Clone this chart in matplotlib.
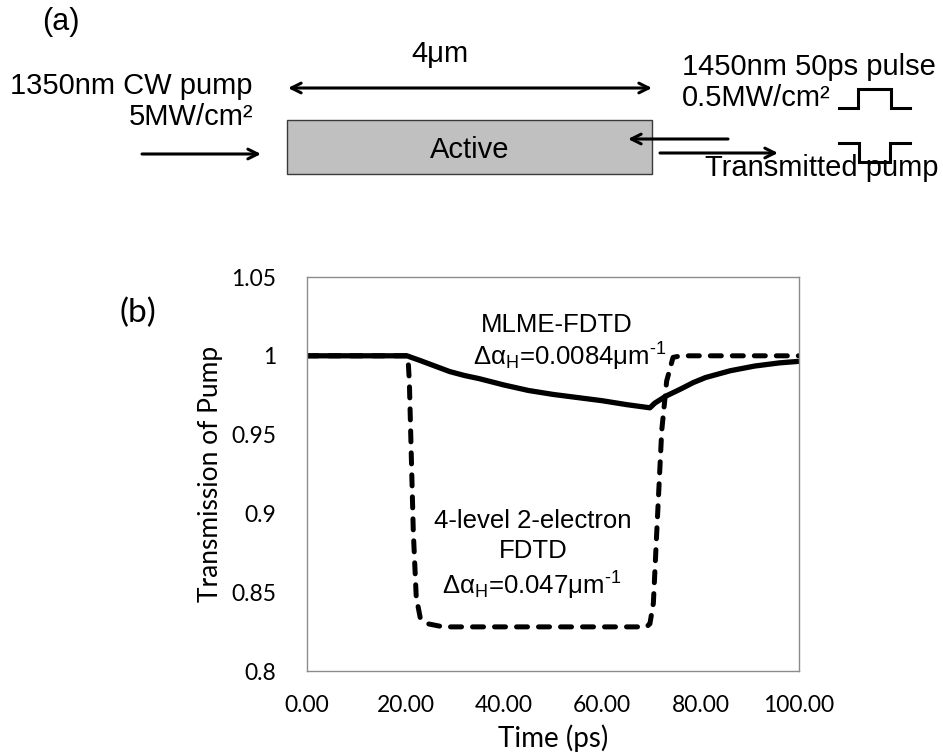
"""Pump transmission through a 4 um active region: MLME-FDTD vs 4-level 2-electron FDTD.

Panel (a) sketches the pump/probe geometry, panel (b) plots the transmitted
CW pump while the 50 ps pulse passes through.
"""

import matplotlib
matplotlib.use("Agg")
import matplotlib.pyplot as plt
from matplotlib.patches import Rectangle

plt.rcParams["mathtext.fontset"] = "custom"
plt.rcParams["mathtext.rm"] = "Liberation Sans"
plt.rcParams["mathtext.it"] = "Liberation Sans:italic"

ARIAL = "Liberation Sans"
CALIBRI = "Lato"

# MLME-FDTD (solid)
mlme_t = [0, 20.3, 23, 26, 29, 32, 35, 40, 45, 50, 55, 60, 65, 69.7,
          70.7, 73, 76, 78.5, 81, 86, 91, 96, 100]
mlme_T = [1.0, 1.0, 0.997, 0.9935, 0.990, 0.9875, 0.9855, 0.9815, 0.978,
          0.9755, 0.9735, 0.9715, 0.969, 0.967, 0.970, 0.9745, 0.979,
          0.983, 0.9862, 0.9905, 0.9935, 0.9955, 0.9965]

# 4-level 2-electron FDTD (dashed)
fourlvl_t = [0, 20.5, 20.8, 21.6, 22.2, 23.0, 24.5, 27.7, 40, 60, 69.0,
             69.7, 70.4, 71.1, 72.1, 73.1, 74.4, 76, 100]
fourlvl_T = [1.0, 1.0, 0.984, 0.889, 0.847, 0.834, 0.830, 0.828, 0.828,
             0.828, 0.828, 0.830, 0.843, 0.889, 0.9525, 0.984, 0.999, 1.0, 1.0]

x_ticks = [0, 20, 40, 60, 80, 100]
y_ticks = [0.8, 0.85, 0.9, 0.95, 1.0, 1.05]
y_tick_labels = ["0.8", "0.85", "0.9", "0.95", "1", "1.05"]

W, H = 943, 754
fig = plt.figure(figsize=(W / 100, H / 100), dpi=100)

# ---- (a) schematic, drawn in pixel coordinates on a full-figure overlay
sk = fig.add_axes([0, 0, 1, 1])
sk.set_xlim(0, W)
sk.set_ylim(H, 0)
sk.axis("off")

txt = dict(family=ARIAL, fontsize=21, color="black")
sk.text(61, 22, "(a)", ha="center", va="center", family=ARIAL, fontsize=22)
sk.text(440, 54, "4\u03bcm", ha="center", va="center", **txt)
sk.text(10, 86, "1350nm CW pump", ha="left", va="center", **txt)
sk.text(253, 117, "5MW/cm\u00b2", ha="right", va="center", **txt)
sk.text(682, 67, "1450nm 50ps pulse", ha="left", va="center", **txt)
sk.text(682, 98, "0.5MW/cm\u00b2", ha="left", va="center", **txt)
sk.text(705, 168, "Transmitted pump", ha="left", va="center", **txt)

sk.add_patch(Rectangle((287, 120), 365, 54, facecolor="#c0c0c0",
                       edgecolor="#3a3a3a", linewidth=1.0))
sk.text(470, 150, "Active", ha="center", va="center", **txt)

arrow = dict(arrowstyle="->,head_length=0.7,head_width=0.35", color="black",
             lw=2.2, shrinkA=0, shrinkB=0)
sk.annotate("", xy=(288, 88), xytext=(652, 88),
            arrowprops=dict(arrowstyle="<->,head_length=0.7,head_width=0.35",
                            color="black", lw=2.2, shrinkA=0, shrinkB=0))
sk.annotate("", xy=(261, 154), xytext=(142, 154), arrowprops=arrow)
sk.annotate("", xy=(628, 139), xytext=(728, 139), arrowprops=arrow)
sk.annotate("", xy=(778, 153), xytext=(660, 153), arrowprops=arrow)

# pulse symbols: incoming pulse and dip in transmitted pump
sk.plot([839, 858, 858, 891, 891, 910], [108, 108, 89, 89, 108, 108],
        color="black", lw=2.2, solid_joinstyle="miter")
sk.plot([839, 859, 859, 890, 890, 910], [143, 143, 162, 162, 143, 143],
        color="black", lw=2.2, solid_joinstyle="miter")

# ---- (b) transmission vs time
ax = fig.add_axes([307 / W, 1 - 671 / H, 492 / W, 394 / H])
ax.plot(fourlvl_t, fourlvl_T, color="black", lw=3.6,
        linestyle=(0, (2.2, 2.2)), dash_capstyle="round")
ax.plot(mlme_t, mlme_T, color="black", lw=3.8, solid_capstyle="butt")

ax.set_xlim(0, 100)
ax.set_ylim(0.8, 1.05)
ax.set_xticks(x_ticks)
ax.set_xticklabels([f"{v:.2f}" for v in x_ticks])
ax.set_yticks(y_ticks)
ax.set_yticklabels(y_tick_labels)
ax.tick_params(length=0, labelsize=16.5, labelcolor="black")
ax.tick_params(axis="x", pad=17)
ax.tick_params(axis="y", pad=22)
for lab in ax.get_xticklabels() + ax.get_yticklabels():
    lab.set_family(CALIBRI)
for sp in ax.spines.values():
    sp.set_color("#8c8c8c")
    sp.set_linewidth(1.0)

ax.set_xlabel("Time (ps)", family=CALIBRI, fontsize=20, labelpad=6)
ax.set_ylabel("Transmission of Pump", family=CALIBRI, fontsize=19, labelpad=6)

note = dict(family=ARIAL, fontsize=18.5, color="black", transform=sk.transData)
fig.text(557, 325, "MLME-FDTD", ha="center", va="center", **note)
fig.text(473, 357, "\u0394\u03b1$_\\mathrm{H}$=0.0084\u03bcm$^{\\text{-}1}$",
         ha="left", va="center", **note)
fig.text(533, 521, "4-level 2-electron", ha="center", va="center", **note)
fig.text(533, 551, "FDTD", ha="center", va="center", **note)
fig.text(532, 586, "\u0394\u03b1$_\\mathrm{H}$=0.047\u03bcm$^{\\text{-}1}$",
         ha="center", va="center", **note)
fig.text(138, 313, "(b)", family=CALIBRI, fontsize=24, ha="center",
         va="center", transform=sk.transData)

fig.savefig("out.png", dpi=100)
